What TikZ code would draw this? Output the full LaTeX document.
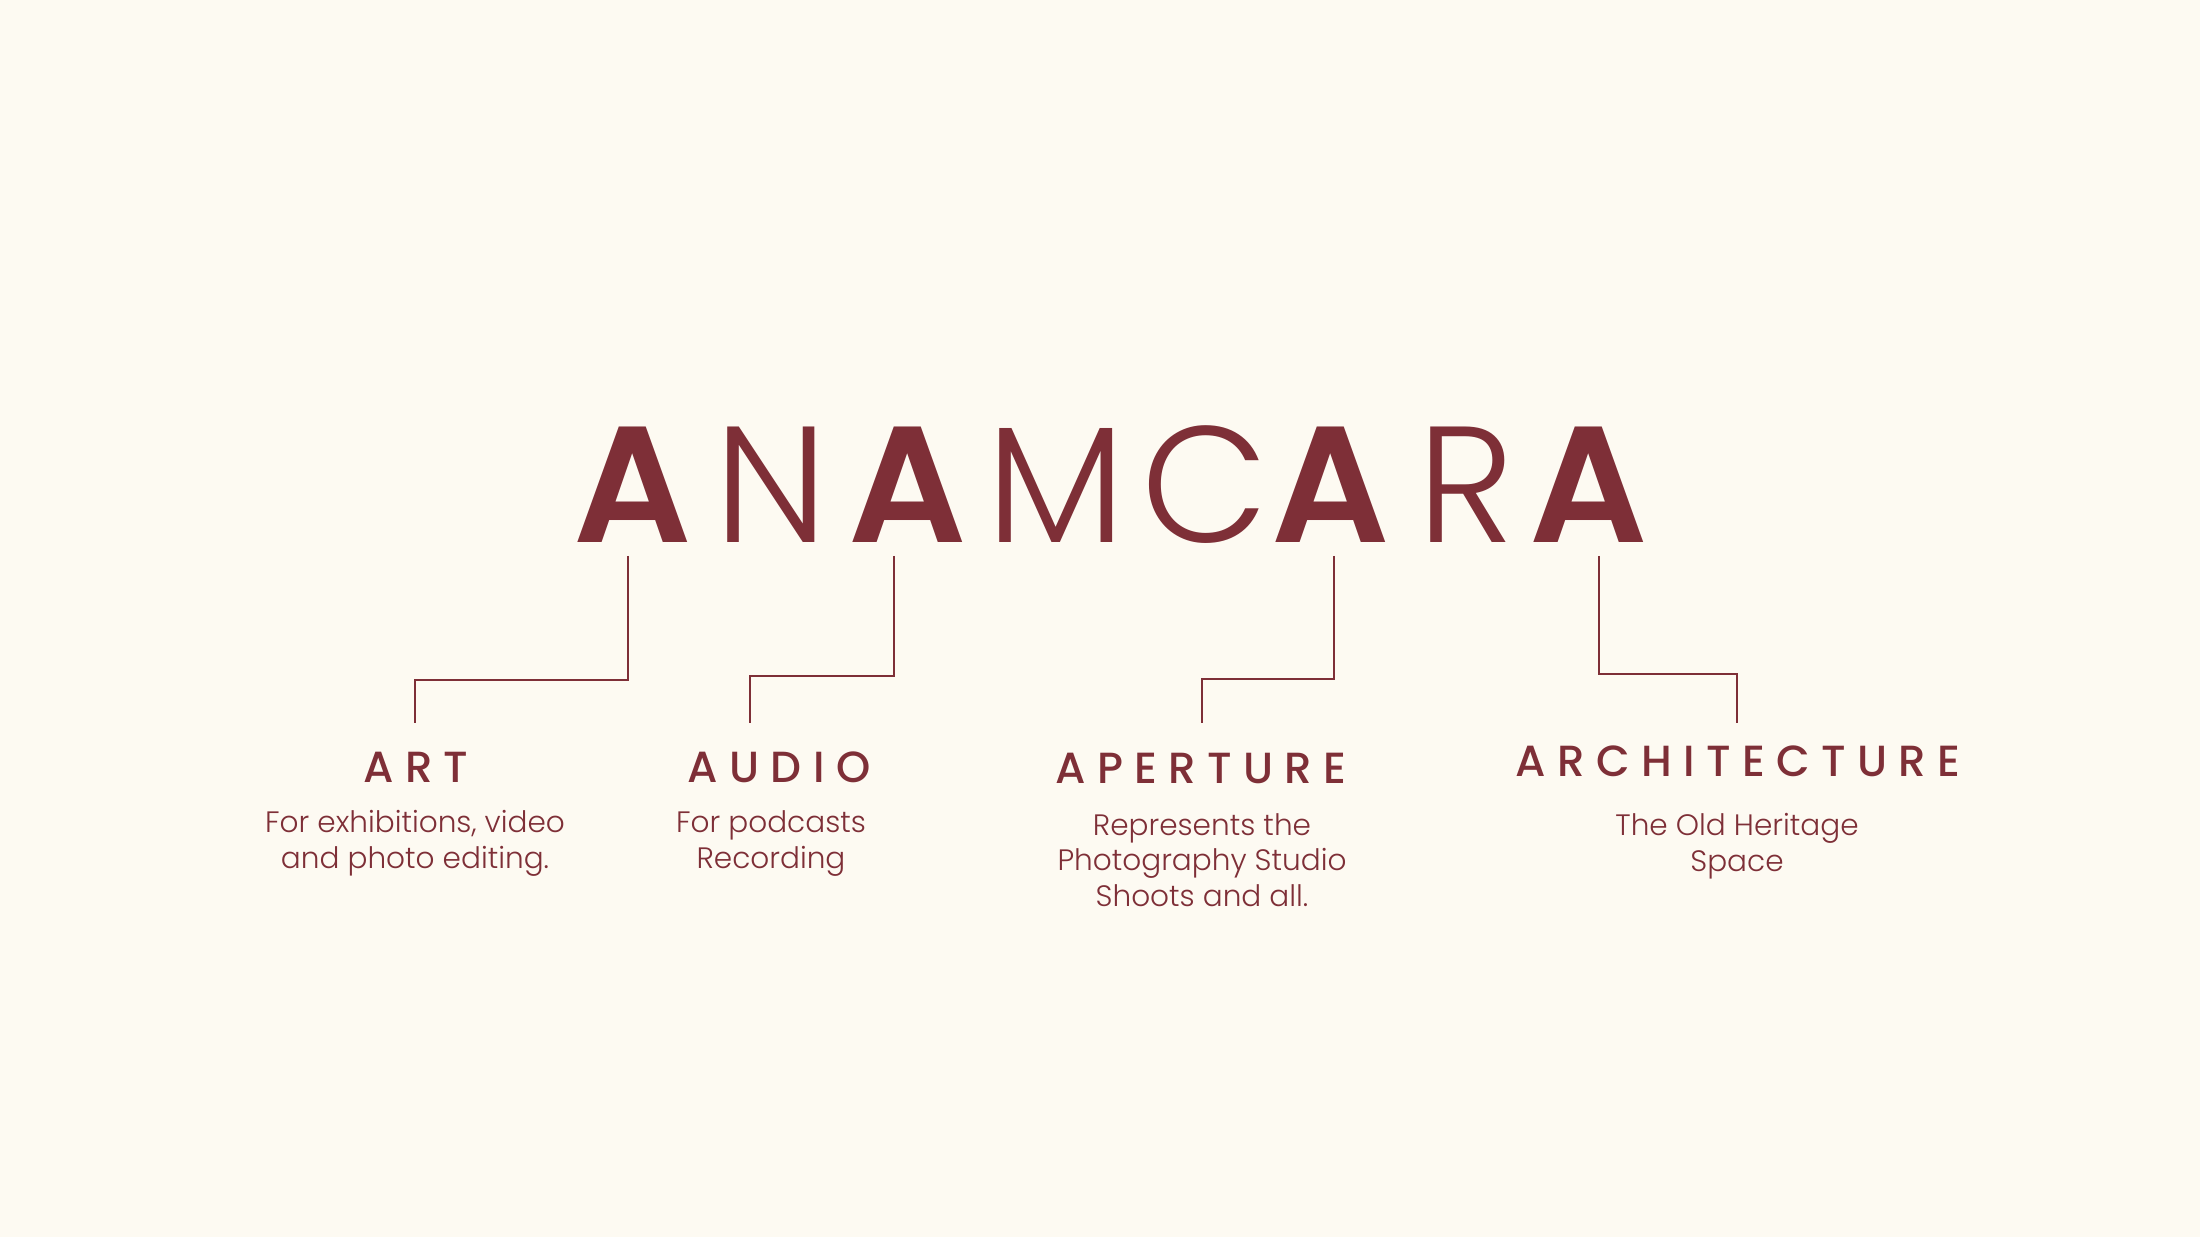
\documentclass[tikz,border=0pt]{standalone}
\usepackage{fontspec}
\setmainfont{Poppins}
\newfontfamily\duennfont{Poppins Light}
\newfontfamily\halbfettfont{Poppins SemiBold}
\newfontfamily\mittelfont{Poppins Medium}[LetterSpace=26]
\usetikzlibrary{positioning}
\definecolor{weinrot}{HTML}{7E2F37}
\definecolor{creme}{HTML}{FDFAF2}

\begin{document}
\begin{tikzpicture}[x=0.01cm,y=-0.01cm,
    dickA/.style={anchor=base,inner sep=0pt,text=weinrot,font=\halbfettfont\fontsize{47}{47}\selectfont},
    duenn/.style={anchor=base,inner sep=0pt,text=weinrot,font=\duennfont\fontsize{47}{47}\selectfont},
    bereich/.style={anchor=base,inner sep=0pt,text=weinrot,font=\mittelfont\fontsize{12.4}{12.4}\selectfont},
    beschreibung/.style={anchor=base,inner sep=0pt,align=center,text=weinrot,font=\duennfont\fontsize{8.4}{9.96}\selectfont},
    verbinder/.style={draw=weinrot,line width=0.8pt}]
            % Hintergrund
            \fill[creme] (0,0) rectangle (2200,1237);

            % Titel, Buchstabe fuer Buchstabe
            \node[dickA] (tA1) at (633,543) {A};
            \node[duenn] (tN) at (771,543) {N};
            \node[dickA] (tA2) at (908,543) {A};
            \node[duenn] (tM) at (1056,543) {M};
            \node[duenn] (tC) at (1205,543) {C};
            \node[dickA] (tA3) at (1331,543) {A};
            \node[duenn] (tR) at (1466,543) {R};
            \node[dickA] (tA4) at (1589,543) {A};

            % Bereiche
            \node[bereich] (art) at (416,782) {ART};
            \node[bereich] (audio) at (779,782) {AUDIO};
            \node[bereich] (aperture) at (1201,783) {APERTURE};
            \node[bereich] (architektur) at (1738,777) {ARCHITECTURE};

            % Beschreibungen (Anker = letzte Zeile + Strut)
            \node[beschreibung] (artText) at (415,868) {For exhibitions, video\\and photo editing.};
            \node[beschreibung] (audioText) at (771,868) {For podcasts\\Recording};
            \node[beschreibung] (apertureText) at (1202,906) {Represents the\\Photography Studio\\Shoots and all.};
            \node[beschreibung] (architekturText) at (1737,871) {The Old Heritage\\Space};

            % Punkte fuer die Verbinder
            \coordinate (o1) at (628,556);
            \coordinate (k1) at (415,680);
            \coordinate (u1) at (415,723);

            \coordinate (o2) at (894,556);
            \coordinate (k2) at (750,676);
            \coordinate (u2) at (750,723);

            \coordinate (o3) at (1334,556);
            \coordinate (k3) at (1202,679);
            \coordinate (u3) at (1202,723);

            \coordinate (o4) at (1599,556);
            \coordinate (k4) at (1737,674);
            \coordinate (u4) at (1737,723);

            % Zeichne die Verbinder
            \draw[verbinder] (o1) |- (k1) -- (u1);
            \draw[verbinder] (o2) |- (k2) -- (u2);
            \draw[verbinder] (o3) |- (k3) -- (u3);
            \draw[verbinder] (o4) |- (k4) -- (u4);
\end{tikzpicture}
\end{document}
